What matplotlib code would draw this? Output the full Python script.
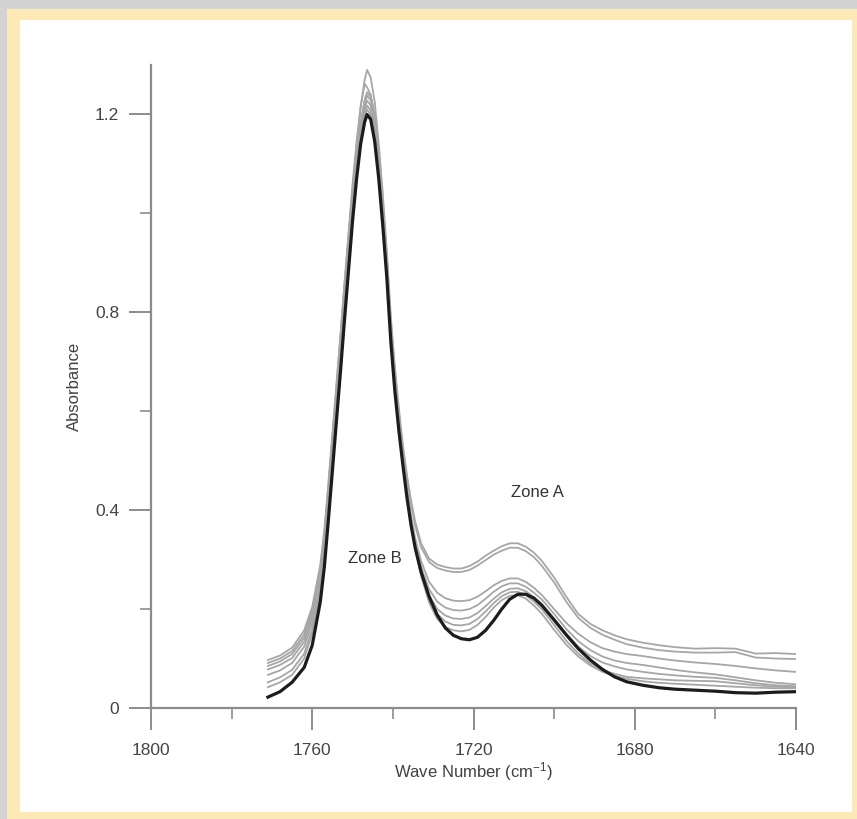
import numpy as np
import matplotlib
matplotlib.use("Agg")
import matplotlib.pyplot as plt
from matplotlib.patches import Rectangle
from matplotlib.ticker import MultipleLocator

plt.rcParams['font.family'] = ['Liberation Sans', 'DejaVu Sans']
plt.rcParams['mathtext.fontset'] = 'custom'
plt.rcParams['mathtext.rm'] = 'Liberation Sans'
plt.rcParams['mathtext.it'] = 'Liberation Sans'

# wave numbers (cm-1) shared by all spectra
wn = [1771, 1768, 1765, 1762, 1760, 1758, 1757, 1756, 1755, 1754, 1753, 1752,
      1751, 1750, 1749, 1748, 1747, 1746.4, 1745.5, 1744.5, 1743.5, 1742.5,
      1741.5, 1740.5, 1739.5, 1738.5, 1737.5, 1736.5, 1735.5, 1734.5,
      1733, 1731, 1729, 1727, 1725, 1723, 1721, 1719, 1717, 1715, 1713, 1711,
      1709, 1707, 1705, 1703, 1700,
      1697, 1694, 1691, 1688, 1685, 1682, 1678, 1674, 1670, 1665, 1660, 1655,
      1650, 1645, 1640]

# light grey spectra, top to bottom
g1 = [0.097, 0.106, 0.122, 0.157, 0.205, 0.290, 0.360, 0.455, 0.555, 0.655, 0.755, 0.860,
      0.960, 1.060, 1.145, 1.215, 1.270, 1.290, 1.275, 1.225, 1.140, 1.040,
      0.925, 0.790, 0.690, 0.605, 0.530, 0.470, 0.420, 0.378,
      0.333, 0.302, 0.290, 0.285, 0.282, 0.282, 0.287, 0.296, 0.308, 0.318, 0.327, 0.333,
      0.333, 0.326, 0.314, 0.297, 0.264,
      0.225, 0.190, 0.170, 0.157, 0.147, 0.139, 0.132, 0.127, 0.123, 0.120, 0.121, 0.120,
      0.110, 0.111, 0.109]
g2 = [0.091, 0.100, 0.115, 0.149, 0.198, 0.282, 0.352, 0.448, 0.548, 0.650, 0.752, 0.856,
      0.955, 1.050, 1.135, 1.215, 1.262, 1.255, 1.240, 1.200, 1.120, 1.025,
      0.910, 0.780, 0.680, 0.598, 0.525, 0.465, 0.413, 0.370,
      0.325, 0.295, 0.283, 0.278, 0.275, 0.275, 0.279, 0.288, 0.299, 0.310, 0.318, 0.324,
      0.324, 0.317, 0.305, 0.287, 0.254,
      0.215, 0.182, 0.162, 0.148, 0.138, 0.129, 0.122, 0.117, 0.114, 0.112, 0.112, 0.113,
      0.102, 0.100, 0.099]
g3 = [0.085, 0.094, 0.109, 0.142, 0.190, 0.272, 0.342, 0.438, 0.538, 0.638, 0.738, 0.840,
      0.940, 1.035, 1.115, 1.185, 1.230, 1.245, 1.235, 1.190, 1.110, 1.015,
      0.905, 0.775, 0.670, 0.585, 0.510, 0.445, 0.390, 0.345,
      0.297, 0.255, 0.233, 0.222, 0.217, 0.216, 0.218, 0.225, 0.236, 0.248, 0.257, 0.262,
      0.262, 0.255, 0.243, 0.228, 0.200,
      0.172, 0.150, 0.133, 0.121, 0.114, 0.109, 0.105, 0.100, 0.096, 0.092, 0.089, 0.085,
      0.080, 0.076, 0.073]
g4 = [0.078, 0.087, 0.101, 0.134, 0.182, 0.264, 0.334, 0.430, 0.530, 0.630, 0.730, 0.832,
      0.932, 1.028, 1.108, 1.175, 1.222, 1.238, 1.228, 1.183, 1.104, 1.008,
      0.898, 0.768, 0.664, 0.578, 0.503, 0.438, 0.382, 0.336,
      0.285, 0.240, 0.215, 0.203, 0.198, 0.197, 0.200, 0.208, 0.221, 0.235, 0.246, 0.252,
      0.252, 0.245, 0.233, 0.219, 0.190,
      0.160, 0.135, 0.117, 0.104, 0.096, 0.091, 0.087, 0.082, 0.077, 0.072, 0.068, 0.062,
      0.056, 0.051, 0.048]
g5 = [0.067, 0.076, 0.091, 0.124, 0.172, 0.254, 0.324, 0.420, 0.520, 0.620, 0.720, 0.822,
      0.922, 1.018, 1.098, 1.165, 1.212, 1.228, 1.218, 1.174, 1.095, 0.999,
      0.890, 0.760, 0.657, 0.572, 0.497, 0.432, 0.376, 0.330,
      0.277, 0.228, 0.200, 0.187, 0.181, 0.180, 0.183, 0.192, 0.206, 0.221, 0.234, 0.241,
      0.242, 0.236, 0.224, 0.210, 0.180,
      0.150, 0.124, 0.105, 0.092, 0.084, 0.078, 0.073, 0.069, 0.066, 0.063, 0.061, 0.056,
      0.050, 0.046, 0.044]
g6 = [0.052, 0.062, 0.077, 0.110, 0.160, 0.242, 0.312, 0.408, 0.508, 0.608, 0.708, 0.810,
      0.910, 1.006, 1.088, 1.156, 1.203, 1.218, 1.208, 1.164, 1.087, 0.991,
      0.883, 0.753, 0.651, 0.567, 0.494, 0.429, 0.373, 0.326,
      0.272, 0.220, 0.190, 0.175, 0.168, 0.167, 0.170, 0.180, 0.195, 0.212, 0.226, 0.234,
      0.235, 0.228, 0.215, 0.199, 0.168,
      0.136, 0.110, 0.090, 0.077, 0.069, 0.063, 0.060, 0.058, 0.056, 0.055, 0.054, 0.050,
      0.046, 0.043, 0.042]
g7 = [0.042, 0.052, 0.067, 0.100, 0.150, 0.232, 0.302, 0.398, 0.498, 0.598, 0.698, 0.800,
      0.900, 0.996, 1.080, 1.148, 1.195, 1.210, 1.200, 1.156, 1.080, 0.984,
      0.877, 0.748, 0.647, 0.564, 0.491, 0.426, 0.369, 0.322,
      0.267, 0.213, 0.180, 0.164, 0.157, 0.155, 0.158, 0.168, 0.184, 0.203, 0.218, 0.227,
      0.228, 0.221, 0.207, 0.190, 0.158,
      0.128, 0.104, 0.086, 0.073, 0.065, 0.059, 0.054, 0.051, 0.049, 0.047, 0.045, 0.043,
      0.041, 0.040, 0.040]

# reference spectrum (thick black)
ref = [0.022, 0.033, 0.052, 0.082, 0.127, 0.215, 0.285, 0.380, 0.480, 0.580, 0.680, 0.785,
       0.885, 0.985, 1.070, 1.140, 1.185, 1.200, 1.190, 1.145, 1.070, 0.975,
       0.870, 0.740, 0.640, 0.560, 0.490, 0.425, 0.370, 0.325,
       0.275, 0.225, 0.188, 0.162, 0.147, 0.140, 0.138, 0.143, 0.157, 0.177, 0.200, 0.220,
       0.230, 0.230, 0.222, 0.207, 0.178,
       0.148, 0.120, 0.097, 0.078, 0.063, 0.053, 0.046, 0.041, 0.038, 0.036, 0.034, 0.031,
       0.030, 0.032, 0.033]

grey_spectra = [g1, g2, g3, g4, g5, g6, g7]

x_ticks = [1800, 1760, 1720, 1680, 1640]
y_ticks = [0, 0.4, 0.8, 1.2]
y_tick_labels = ["0", "0.4", "0.8", "1.2"]

fig = plt.figure(figsize=(8.57, 8.19), dpi=100, facecolor='#d3d3d3')
# cream frame and white card behind the axes
fig.patches.append(Rectangle((7 / 857, 0), 1, 1 - 9 / 819, transform=fig.transFigure,
                             facecolor='#fde9b6', edgecolor='none', zorder=-10))
fig.patches.append(Rectangle((20 / 857, 7 / 819), 832 / 857, 792 / 819, transform=fig.transFigure,
                             facecolor='white', edgecolor='none', zorder=-9))

ax = fig.add_axes([151 / 857, 1 - 708 / 819, 645 / 857, 643 / 819])
ax.set_zorder(5)
ax.patch.set_alpha(0)

for g in grey_spectra:
    ax.plot(wn, g, color='#a6a6a6', lw=1.3, solid_joinstyle='round')
ax.plot(wn, ref, color='#1c1c1c', lw=2.3, solid_joinstyle='round')

ax.set_xlim(1800, 1640)
ax.set_ylim(0, 1.3)

for side in ['top', 'right']:
    ax.spines[side].set_visible(False)
for side in ['left', 'bottom']:
    ax.spines[side].set_color('#8c8c8c')
    ax.spines[side].set_linewidth(1.6)

ax.set_xticks(x_ticks)
ax.xaxis.set_minor_locator(MultipleLocator(20))
ax.set_yticks(y_ticks)
ax.set_yticklabels(y_tick_labels)
ax.yaxis.set_minor_locator(MultipleLocator(0.2))
ax.tick_params(which='major', length=16, width=1.4, color='#8c8c8c',
               labelsize=12.5, labelcolor='#444444')
ax.tick_params(which='minor', length=8, width=1.2, color='#8c8c8c')
ax.tick_params(axis='x', which='major', pad=9)
ax.tick_params(axis='y', which='major', pad=7)

ax.set_xlabel('Wave Number (cm$^{-1}$)', fontsize=12, color='#404040', labelpad=2)
ax.set_ylabel('Absorbance', fontsize=12, color='#404040', labelpad=9)

ax.text(1704.2, 0.435, 'Zone A', fontsize=12, color='#333333', ha='center', va='center')
ax.text(1744.4, 0.303, 'Zone B', fontsize=12, color='#333333', ha='center', va='center')

fig.savefig('out.png', dpi=100, facecolor=fig.get_facecolor())
